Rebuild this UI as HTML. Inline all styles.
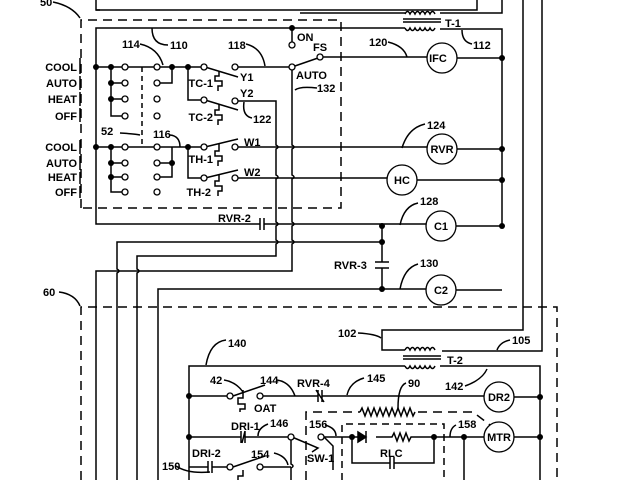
<!DOCTYPE html>
<html><head><meta charset="utf-8"><style>
html,body{margin:0;padding:0;background:#fff;width:640px;height:480px;overflow:hidden}
svg{display:block}
text{font-family:"Liberation Sans",sans-serif;font-size:11px;font-weight:bold;fill:#000}
</style></head><body>
<svg width="640" height="480" viewBox="0 0 640 480" xmlns="http://www.w3.org/2000/svg">
<g fill="none" stroke="#000" stroke-width="1.5">
<path d="M96 0 V10 H477 V0"/>
<path d="M96 10 H100"/>
<path d="M405 13 H300 M440 13 H502 V0"/>
<path d="M405 14 q2.5 -5 5 0 q2.5 -5 5 0 q2.5 -5 5 0 q2.5 -5 5 0 q2.5 -5 5 0 q2.5 -5 5 0"/>
<path d="M403 19 H441 M403 22 H441"/>
<path d="M405 28 q2.5 5 5 0 q2.5 5 5 0 q2.5 5 5 0 q2.5 5 5 0 q2.5 5 5 0 q2.5 5 5 0"/>
<path d="M405 28 H96 V224 H260 M264 224 H382 H426 M456 226 H502 V29 H440"/>
<path d="M523 0 V330 H382 V350 H405 M542 0 V351 H442"/>
<path d="M405 350 q2.5 -5 5 0 q2.5 -5 5 0 q2.5 -5 5 0 q2.5 -5 5 0 q2.5 -5 5 0 q2.5 -5 5 0"/>
<path d="M403 356 H441 M403 359 H441"/>
<path d="M405 366 q2.5 5 5 0 q2.5 5 5 0 q2.5 5 5 0 q2.5 5 5 0 q2.5 5 5 0 q2.5 5 5 0"/>
<path d="M405 366 H189 V480 M440 366 H540 V480"/>
<path stroke-dasharray="9,6" d="M81 208 V20 H341 V208 H81"/>
<path stroke-dasharray="9,6" d="M81 480 V307 H557 V480"/>
<path d="M96 67 H125 M111 67 V116 H122 M111 83 H122 M111 99 H122 M128 67 H154 M160 83 H172 V67 M160 67 H201 M188 67 V100 H201 M238 67 H292 M238 101 H276 V145 q4 2 0 4 V175 q4 2 0 4 V222 q4 2 0 4 V240 q4 2 0 4 V256 H137 V269 q4 2 0 4 V480"/>
<path stroke-dasharray="5,4" d="M142 67 V147"/>
<path d="M292 28 V42 M292 70 V145 q4 2 0 4 V175 q4 2 0 4 V222 q4 2 0 4 V240 q4 2 0 4 V271 H96 V480 M292 67 L318 58 M323 57 H427 M457 58 H502"/>
<path d="M205 67 L238 77 M205 100 L238 110"/>
<path d="M219 71 V76 h-4 v5 h7 v5 h-4 v5 M219 104 V110 h-4 v5 h7 v5 h-4 v5"/>
<path d="M96 147 H125 M111 147 V192 H122 M111 163 H122 M111 177 H122 M128 147 H154 M160 163 H172 M160 177 H172 V147 M160 147 H201 M188 147 V178 H201 M238 147 H427 M457 149 H502 M238 178 H387 M417 180 H502"/>
<path d="M205 147 L238 139 M205 178 L238 170"/>
<path d="M219 144 V151 h-4 v5 h7 v5 h-4 v5 M219 175 V181 h-4 v5 h7 v5 h-4 v5"/>
<path d="M260 218 V230 M264 218 V230"/>
<path d="M117 480 V273 q4 -2 0 -4 V242 H382"/>
<path d="M158 480 V289 H426 M456 290 H502"/>
<path d="M382 226 V262 M382 268 V289 M375 262 H389 M375 268 H389"/>
<path d="M189 396 H227 M233 396 L265 385 M263 396 H318 M322 396 H484 M514 397 H540"/>
<path d="M316 390 L324 402 M318 390 V402 M322 390 V402"/>
<path d="M243 390 V398 h-5 v6 h7 v5 h-5 v3"/>
<path d="M189 437 H241 M245 437 H288 M292 437 L318 448 L312 452 M245 431 L242 443 M241 431 V443 M245 431 V443"/>
<path d="M324 437 H366 M376 437 H392 l2 -4 l3 8 l3 -8 l3 8 l3 -8 l3 8 l2 -4 H484 M514 437 H540"/>
<path d="M366 431 V443 M366 437 L358 432 V442 Z" fill="#000"/>
<path d="M352 437 V463 H390 M394 463 H434 V437 M390 457 V469 M394 457 V469"/>
<path d="M464 437 V480"/>
<path d="M324 437 L333 446 V470"/>
<path d="M291 437 V464 q4 2 0 4 V480"/>
<path stroke-dasharray="9,6" d="M306 480 V412 H360 M418 412 H473 L490 425"/>
<path d="M360 412 l2 -4 l3 8 l3 -8 l3 8 l3 -8 l3 8 l3 -8 l3 8 l3 -8 l3 8 l3 -8 l3 8 l3 -8 l3 8 l3 -8 l3 8 l3 -8 l3 8 l2 -4"/>
<path stroke-dasharray="7,5" d="M342 480 V424 H444 V480"/>
<path d="M189 467 H208 M212 467 H227 M233 467 L265 456 M263 467 H291 M208 461 V473 M212 461 V473 M243 470 V476 h-5 v4"/>
<path d="M53 2 Q72 6 80 18 M140 44 Q158 48 163 65 M152 28 Q152 45 168 45 M246 44 Q262 48 265 66 M317 88 Q300 86 295 90 M388 42 Q404 46 407 57 M462 30 Q462 42 472 44 M244 102 Q242 116 252 118 M120 133 Q136 134 140 135 M170 135 Q180 136 180 147 M425 124 Q408 128 402 148 M418 203 Q404 206 400 225 M418 264 Q404 268 400 289 M59 292 Q75 294 80 306 M358 333 Q376 334 381 338 M510 340 Q500 342 497 350 M226 340 Q210 342 206 365 M465 386 Q482 380 487 369 M224 380 Q236 382 243 392 M277 380 Q290 382 295 396 M364 378 Q350 382 347 395 M406 383 Q398 386 398 408 M268 424 Q258 428 258 436 M325 425 Q336 428 336 436 M456 425 Q450 428 450 437 M176 466 Q188 474 210 472 M274 453 Q286 456 288 465"/>
<path d="M80 58 V74 M80 76 V90 M80 92 V106 M80 108 V122 M80 140 V154 M80 156 V170 M80 172 V184 M80 186 V198"/>
</g>
<g fill="#fff" stroke="#000" stroke-width="1.3">
<circle cx="125" cy="67" r="3"/><circle cx="125" cy="83" r="3"/><circle cx="125" cy="99" r="3"/><circle cx="125" cy="116" r="3"/>
<circle cx="157" cy="67" r="3"/><circle cx="157" cy="83" r="3"/><circle cx="157" cy="99" r="3"/><circle cx="157" cy="116" r="3"/>
<circle cx="125" cy="147" r="3"/><circle cx="125" cy="163" r="3"/><circle cx="125" cy="177" r="3"/><circle cx="125" cy="192" r="3"/>
<circle cx="157" cy="147" r="3"/><circle cx="157" cy="163" r="3"/><circle cx="157" cy="177" r="3"/><circle cx="157" cy="192" r="3"/>
<circle cx="204" cy="67" r="3"/><circle cx="235" cy="67" r="3"/><circle cx="204" cy="100" r="3"/><circle cx="235" cy="101" r="3"/>
<circle cx="204" cy="147" r="3"/><circle cx="235" cy="147" r="3"/><circle cx="204" cy="178" r="3"/><circle cx="235" cy="178" r="3"/>
<circle cx="292" cy="45" r="3"/><circle cx="292" cy="67" r="3"/><circle cx="320" cy="57" r="3"/>
<circle cx="230" cy="396" r="3"/><circle cx="260" cy="396" r="3"/><circle cx="291" cy="437" r="3"/><circle cx="321" cy="437" r="3"/>
<circle cx="230" cy="467" r="3"/><circle cx="260" cy="467" r="3"/>
<circle cx="442" cy="58" r="15"/><circle cx="442" cy="149" r="15"/><circle cx="402" cy="180" r="15"/>
<circle cx="441" cy="226" r="15"/><circle cx="441" cy="290" r="15"/>
<circle cx="499" cy="397" r="15"/><circle cx="499" cy="437" r="15"/>
</g>
<g fill="#000">
<circle cx="96" cy="67" r="3"/><circle cx="111" cy="67" r="3"/><circle cx="111" cy="83" r="3"/><circle cx="111" cy="99" r="3"/>
<circle cx="172" cy="67" r="3"/><circle cx="188" cy="67" r="3"/><circle cx="292" cy="28" r="3"/>
<circle cx="96" cy="147" r="3"/><circle cx="111" cy="147" r="3"/><circle cx="111" cy="163" r="3"/><circle cx="111" cy="177" r="3"/>
<circle cx="172" cy="163" r="3"/><circle cx="188" cy="147" r="3"/>
<circle cx="502" cy="58" r="3"/><circle cx="502" cy="149" r="3"/><circle cx="502" cy="180" r="3"/><circle cx="502" cy="226" r="3"/>
<circle cx="382" cy="226" r="3"/><circle cx="382" cy="242" r="3"/><circle cx="382" cy="289" r="3"/>
<circle cx="189" cy="396" r="3"/><circle cx="189" cy="437" r="3"/><circle cx="540" cy="397" r="3"/><circle cx="540" cy="437" r="3"/>
<circle cx="352" cy="437" r="3"/><circle cx="434" cy="437" r="3"/><circle cx="464" cy="437" r="3"/>
</g>
<text x="40" y="6">50</text>
<text x="77" y="71" text-anchor="end">COOL</text><text x="77" y="87" text-anchor="end">AUTO</text><text x="77" y="103" text-anchor="end">HEAT</text><text x="77" y="120" text-anchor="end">OFF</text>
<text x="77" y="151" text-anchor="end">COOL</text><text x="77" y="167" text-anchor="end">AUTO</text><text x="77" y="181" text-anchor="end">HEAT</text><text x="77" y="196" text-anchor="end">OFF</text>
<text x="122" y="48">114</text><text x="170" y="49">110</text><text x="228" y="49">118</text>
<text x="297" y="41">ON</text><text x="313" y="51">FS</text><text x="296" y="79">AUTO</text><text x="317" y="92">132</text>
<text x="369" y="46">120</text><text x="445" y="27">T-1</text><text x="473" y="49">112</text>
<text x="213" y="87" text-anchor="end">TC-1</text><text x="240" y="81">Y1</text><text x="240" y="97">Y2</text><text x="213" y="121" text-anchor="end">TC-2</text><text x="253" y="123">122</text>
<text x="101" y="135">52</text><text x="153" y="138">116</text>
<text x="244" y="146">W1</text><text x="244" y="176">W2</text><text x="213" y="163" text-anchor="end">TH-1</text><text x="211" y="196" text-anchor="end">TH-2</text>
<text x="427" y="129">124</text><text x="438" y="62" text-anchor="middle">IFC</text><text x="442" y="153" text-anchor="middle">RVR</text>
<text x="402" y="184" text-anchor="middle">HC</text><text x="441" y="230" text-anchor="middle">C1</text><text x="441" y="294" text-anchor="middle">C2</text>
<text x="420" y="205">128</text><text x="218" y="222">RVR-2</text><text x="334" y="269">RVR-3</text><text x="420" y="267">130</text>
<text x="43" y="296">60</text><text x="338" y="337">102</text><text x="512" y="344">105</text><text x="447" y="364">T-2</text>
<text x="228" y="347">140</text><text x="445" y="390">142</text><text x="210" y="384">42</text><text x="254" y="412">OAT</text>
<text x="260" y="384">144</text><text x="297" y="387">RVR-4</text><text x="367" y="382">145</text><text x="408" y="387">90</text>
<text x="499" y="401" text-anchor="middle">DR2</text><text x="499" y="441" text-anchor="middle">MTR</text>
<text x="231" y="430">DRI-1</text><text x="270" y="427">146</text><text x="309" y="428">156</text><text x="307" y="462">SW-1</text>
<text x="458" y="428">158</text><text x="380" y="457">RLC</text><text x="192" y="457">DRI-2</text><text x="162" y="470">150</text><text x="251" y="458">154</text>
</svg>
</body></html>
